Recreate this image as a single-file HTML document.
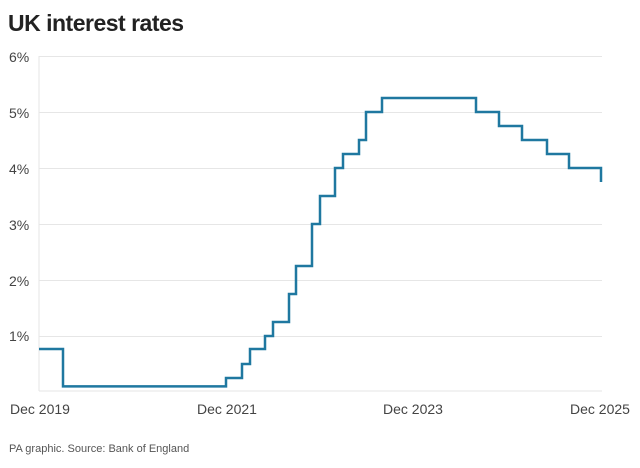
<!DOCTYPE html>
<html><head><style>
body{margin:0;background:#fff;width:640px;height:463px;overflow:hidden;font-family:"Liberation Sans",sans-serif}
</style></head><body>
<svg width="640" height="463" xmlns="http://www.w3.org/2000/svg" font-family="Liberation Sans, sans-serif">
<text x="8" y="31" font-size="23" font-weight="bold" fill="#222" letter-spacing="-0.5">UK interest rates</text>
<g stroke="#e6e6e6" stroke-width="1">
<line x1="39" y1="56.5" x2="602" y2="56.5"/>
<line x1="39" y1="112.5" x2="602" y2="112.5"/>
<line x1="39" y1="168.5" x2="602" y2="168.5"/>
<line x1="39" y1="224.5" x2="602" y2="224.5"/>
<line x1="39" y1="280.5" x2="602" y2="280.5"/>
<line x1="39" y1="336.5" x2="602" y2="336.5"/>
<line x1="39" y1="391" x2="602" y2="391"/>
<line x1="39" y1="56" x2="39" y2="391"/>
</g>
<g font-size="14" fill="#444">
<text x="9" y="62">6%</text>
<text x="9" y="118">5%</text>
<text x="9" y="174">4%</text>
<text x="9" y="230">3%</text>
<text x="9" y="286">2%</text>
<text x="9" y="341">1%</text>
<text x="10" y="414">Dec 2019</text>
<text x="197" y="414">Dec 2021</text>
<text x="383" y="414">Dec 2023</text>
<text x="570" y="414">Dec 2025</text>
</g>
<text x="9" y="452" font-size="11" fill="#555">PA graphic. Source: Bank of England</text>
<polyline fill="none" stroke="#1f78a0" stroke-width="2.5" stroke-linejoin="miter"
points="39,349 63,349 63,386.4 226,386.4 226,378 242,378 242,364 250,364 250,349 265,349 265,336 273,336 273,322 289,322 289,294 296,294 296,266 312,266 312,224 320,224 320,196 335,196 335,168 343,168 343,154 359,154 359,140 366,140 366,112 382,112 382,98 476,98 476,112 499,112 499,126 522,126 522,140 547,140 547,154 569,154 569,168 601,168 601,182"/>
</svg>
</body></html>
